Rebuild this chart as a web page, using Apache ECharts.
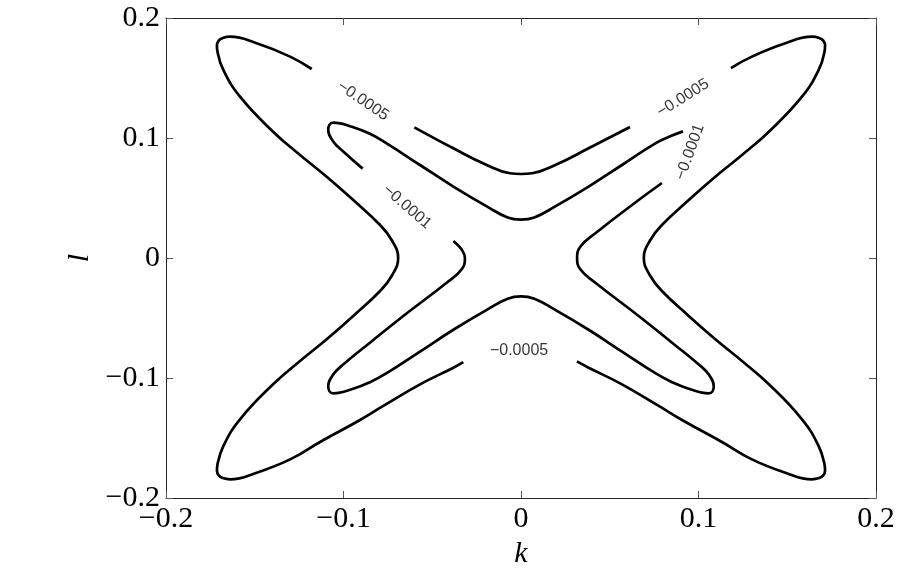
<!DOCTYPE html>
<html>
<head>
<meta charset="utf-8">
<script src="https://cdn.jsdelivr.net/npm/echarts@6/dist/echarts.min.js"></script>
<style>
html, body { margin: 0; padding: 0; background: #fff; }
#chartDom { width: 922px; height: 583px; }
</style>
</head>
<body>
<div id="chartDom"></div>
<script type="text/javascript">
// tick values of both axes
var kTicks = [-0.2, -0.1, 0, 0.1, 0.2];
var lTicks = [-0.2, -0.1, 0, 0.1, 0.2];

// contour -0.0005, split where the labels sit
var outerTop = [
	[-0.0601, 0.1089], [-0.0381, 0.0914], [-0.0193, 0.0775], [-0.0062, 0.0706], [0, 0.0700],
	[0.0062, 0.0706], [0.0193, 0.0775], [0.0381, 0.0914], [0.0614, 0.1092]
];
var outerRight = [
	[0.1183, 0.1583], [0.1301, 0.1678], [0.1489, 0.1789], [0.1639, 0.1844], [0.1680, 0.1834],
	[0.1703, 0.1812], [0.1713, 0.1770], [0.1710, 0.1720], [0.1677, 0.1567], [0.1583, 0.1344],
	[0.1395, 0.1050], [0.1245, 0.0858], [0.1093, 0.0675], [0.0945, 0.0483], [0.0794, 0.0275],
	[0.0727, 0.0146], [0.0692, 0], [0.0727, -0.0146], [0.0794, -0.0275], [0.0945, -0.0483],
	[0.1093, -0.0675], [0.1245, -0.0858], [0.1395, -0.1050], [0.1583, -0.1344], [0.1677, -0.1567],
	[0.1710, -0.1720], [0.1713, -0.1770], [0.1703, -0.1812], [0.1680, -0.1834], [0.1639, -0.1844],
	[0.1489, -0.1789], [0.1301, -0.1678], [0.1132, -0.1533], [0.0907, -0.1350], [0.0776, -0.1233],
	[0.0569, -0.1053], [0.0381, -0.0914], [0.0315, -0.0862]
];
var outerLeft = [
	[-0.0325, -0.0868], [-0.0381, -0.0914], [-0.0569, -0.1053], [-0.0776, -0.1233], [-0.0907, -0.1350],
	[-0.1132, -0.1533], [-0.1301, -0.1678], [-0.1489, -0.1789], [-0.1639, -0.1844], [-0.1680, -0.1834],
	[-0.1703, -0.1812], [-0.1713, -0.1770], [-0.1710, -0.1720], [-0.1677, -0.1567], [-0.1583, -0.1344],
	[-0.1395, -0.1050], [-0.1245, -0.0858], [-0.1093, -0.0675], [-0.0945, -0.0483], [-0.0794, -0.0275],
	[-0.0727, -0.0146], [-0.0692, 0], [-0.0727, 0.0146], [-0.0794, 0.0275], [-0.0945, 0.0483],
	[-0.1093, 0.0675], [-0.1245, 0.0858], [-0.1395, 0.1050], [-0.1583, 0.1344], [-0.1677, 0.1567],
	[-0.1710, 0.1720], [-0.1713, 0.1770], [-0.1703, 0.1812], [-0.1680, 0.1834], [-0.1639, 0.1844],
	[-0.1489, 0.1789], [-0.1301, 0.1678], [-0.1179, 0.1575]
];

// contour -0.0001
var innerLower = [
	[-0.0381, 0.0142], [-0.0334, 0.0070], [-0.0316, 0], [-0.0334, -0.0094], [-0.0419, -0.0206],
	[-0.0663, -0.0483], [-0.0851, -0.0706], [-0.1000, -0.0885], [-0.1060, -0.0975], [-0.1086, -0.1070],
	[-0.1057, -0.1128], [-0.0945, -0.1090], [-0.0851, -0.1035], [-0.0757, -0.0960], [-0.0569, -0.0780],
	[-0.0381, -0.0598], [-0.0193, -0.0432], [-0.0075, -0.0340], [0, -0.0320], [0.0075, -0.0340],
	[0.0193, -0.0432], [0.0381, -0.0598], [0.0569, -0.0780], [0.0757, -0.0960], [0.0851, -0.1035],
	[0.0945, -0.1090], [0.1057, -0.1128], [0.1086, -0.1070], [0.1060, -0.0975], [0.1000, -0.0885],
	[0.0851, -0.0706], [0.0663, -0.0483], [0.0419, -0.0206], [0.0334, -0.0094], [0.0316, 0],
	[0.0334, 0.0094], [0.0419, 0.0206], [0.0663, 0.0483], [0.0794, 0.0625]
];
var innerUpper = [
	[0.0913, 0.1055], [0.0851, 0.1020], [0.0757, 0.0955], [0.0569, 0.0775], [0.0381, 0.0595],
	[0.0193, 0.0430], [0.0075, 0.0338], [0, 0.0320], [-0.0075, 0.0338], [-0.0193, 0.0430],
	[-0.0381, 0.0595], [-0.0569, 0.0775], [-0.0757, 0.0955], [-0.0851, 0.1035], [-0.0945, 0.1090],
	[-0.1057, 0.1128], [-0.1086, 0.1070], [-0.1060, 0.0975], [-0.1000, 0.0885], [-0.0892, 0.0745]
];

// contour labels: text and anchor point (k, l)
var labelText = ['−0.0005', '−0.0001', '−0.0005', '−0.0001', '−0.0005'];
var labelPos = [[-0.0890, 0.1308], [-0.0642, 0.0425], [0.0913, 0.1333], [0.0952, 0.0883], [-0.0011, -0.0775]];
</script>
<script type="text/javascript">
	var myChart = echarts.init(document.getElementById('chartDom'));
	var serif = '"Liberation Serif", "Times New Roman", serif';
	var labelAngle = [-34, -41, 32, 70, 0];

	function tickFmt(v) {
		return String(v).replace('-', '\u2212');
	}
	function makeAxis(pos, isMain, ticks) {
		return {
			type : 'value',
			position : pos,
			min : ticks[0],
			max : ticks[ticks.length - 1],
			interval : 0.1,
			axisLine : {
				onZero : false,
				lineStyle : { color : '#262626', width : 1 }
			},
			axisTick : {
				inside : true,
				length : 7,
				lineStyle : { color : '#555' }
			},
			axisLabel : {
				show : isMain,
				formatter : tickFmt,
				fontFamily : serif,
				fontSize : 30,
				color : '#000',
				showMinLabel : true,
				showMaxLabel : true,
				hideOverlap : false
			},
			splitLine : { show : false }
		};
	}
	function contour(data) {
		return {
			type : 'line',
			data : data,
			symbol : 'none',
			smooth : 0.45,
			lineStyle : { color : '#000', width : 2.7 },
			silent : true
		};
	}

	var xMain = makeAxis('bottom', true, kTicks);
	xMain.name = 'k';
	xMain.nameLocation = 'middle';
	xMain.nameGap = 38;
	xMain.axisLabel.margin = 6;
	xMain.nameTextStyle = { fontFamily : serif, fontStyle : 'italic', fontSize : 30, color : '#000' };
	var yMain = makeAxis('left', true, lTicks);
	yMain.name = 'l';
	yMain.nameLocation = 'middle';
	yMain.nameGap = 63;
	yMain.nameRotate = 90;
	yMain.axisLabel.margin = 6;
	yMain.nameTextStyle = { fontFamily : serif, fontStyle : 'italic', fontSize : 30, color : '#000' };

	var labelData = [];
	for (var i = 0; i < labelText.length; i++) {
		labelData.push({
			value : labelPos[i],
			label : { formatter : labelText[i], rotate : labelAngle[i] }
		});
	}

	var option = {
		animation : false,
		backgroundColor : '#fff',
		grid : { left : 166, right : 46, top : 18, bottom : 85 },
		xAxis : [ xMain, makeAxis('top', false, kTicks) ],
		yAxis : [ yMain, makeAxis('right', false, lTicks) ],
		series : [
			contour(outerTop), contour(outerRight), contour(outerLeft),
			contour(innerLower), contour(innerUpper),
			{
				type : 'scatter',
				symbolSize : 0,
				silent : true,
				data : labelData,
				label : {
					show : true,
					position : 'inside',
					fontFamily : '"Liberation Sans", Arial, sans-serif',
					fontSize : 16,
					color : '#000'
				}
			}
		]
	};
	myChart.setOption(option);
</script>
</body>
</html>
